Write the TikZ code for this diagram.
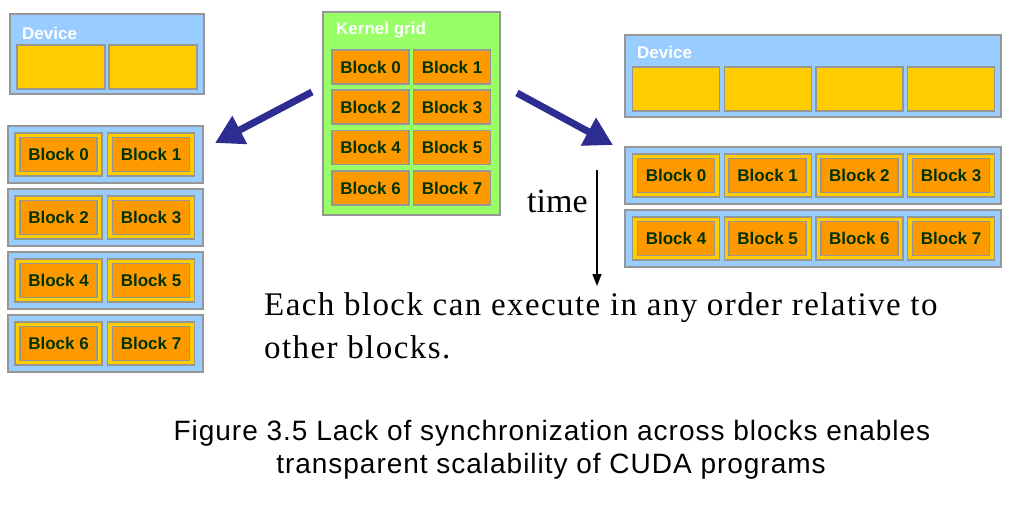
\documentclass[tikz,border=0pt]{standalone}
\usepackage{fontspec}
\setmainfont{Liberation Serif}
\setsansfont{Liberation Sans}
\usetikzlibrary{arrows.meta}

\definecolor{devblue}{RGB}{153,204,255}
\definecolor{coreyellow}{RGB}{255,204,0}
\definecolor{blkorange}{RGB}{255,153,0}
\definecolor{gridgreen}{RGB}{153,255,102}
\definecolor{edgegray}{RGB}{150,150,150}
\definecolor{blkgreen}{RGB}{0,51,0}
\definecolor{arrownavy}{RGB}{45,45,145}

\begin{document}
\begin{tikzpicture}[x=1pt,y=-1pt,
  devbox/.style={draw=edgegray,fill=devblue,line width=1.5pt,inner sep=0pt},
  gridbox/.style={draw=edgegray,fill=gridgreen,line width=1.5pt,inner sep=0pt},
  corebox/.style={draw=edgegray,fill=coreyellow,line width=1.2pt,inner sep=0pt,minimum width=87pt,minimum height=43pt},
  blkbox/.style={draw=edgegray,fill=blkorange,line width=1.5pt,inner sep=0pt,minimum width=77pt,minimum height=34pt,
    text=blkgreen,font=\sffamily\bfseries\fontsize{17}{17}\selectfont},
  boxlabel/.style={anchor=west,inner sep=0pt,text=white,font=\sffamily\bfseries\fontsize{17}{17}\selectfont},
  bigarrow/.style={draw=arrownavy,line width=7pt,-{Triangle[length=28pt,width=30pt]}},
  bodytext/.style={anchor=base west,inner sep=0pt,font=\fontsize{33}{33}\selectfont\addfontfeatures{LetterSpace=4.3}},
  captext/.style={anchor=base,inner sep=0pt,font=\sffamily\fontsize{28}{28}\selectfont\addfontfeatures{LetterSpace=3.5}}]
  \useasboundingbox (0,0) rectangle (1023,505);

  % left device with two cores
  \node[devbox,minimum width=194pt,minimum height=80pt] (ldev) at (107,54) {};
  \node[boxlabel] (ldevlbl) at (22,33) {Device};
  \node[corebox,minimum width=88pt,minimum height=44pt] (ld0) at (61,67) {};
  \node[corebox,minimum width=88pt,minimum height=44pt] (ld1) at (153,67) {};

  % left device running the blocks two at a time
  \node[devbox,minimum width=195pt,minimum height=57pt] (lrow0) at (105.5,154.5) {};
  \node[devbox,minimum width=195pt,minimum height=57pt] (lrow1) at (105.5,217.5) {};
  \node[devbox,minimum width=195pt,minimum height=57pt] (lrow2) at (105.5,280.5) {};
  \node[devbox,minimum width=195pt,minimum height=57pt] (lrow3) at (105.5,343.5) {};
  \node[corebox] (lc0) at (58.5,154.5) {};
  \node[corebox] (lc1) at (151,154.5) {};
  \node[corebox] (lc2) at (58.5,217.5) {};
  \node[corebox] (lc3) at (151,217.5) {};
  \node[corebox] (lc4) at (58.5,280.5) {};
  \node[corebox] (lc5) at (151,280.5) {};
  \node[corebox] (lc6) at (58.5,343.5) {};
  \node[corebox] (lc7) at (151,343.5) {};
  \node[blkbox] (lb0) at (58.5,154.5) {Block 0};
  \node[blkbox] (lb1) at (151,154.5) {Block 1};
  \node[blkbox] (lb2) at (58.5,217.5) {Block 2};
  \node[blkbox] (lb3) at (151,217.5) {Block 3};
  \node[blkbox] (lb4) at (58.5,280.5) {Block 4};
  \node[blkbox] (lb5) at (151,280.5) {Block 5};
  \node[blkbox] (lb6) at (58.5,343.5) {Block 6};
  \node[blkbox] (lb7) at (151,343.5) {Block 7};

  % kernel grid
  \node[gridbox,minimum width=177pt,minimum height=203pt] (grid) at (411.5,113.5) {};
  \node[boxlabel] (gridlbl) at (336,30) {Kernel grid};
  \node[blkbox] (gb0) at (370.5,67) {Block 0};
  \node[blkbox] (gb1) at (452,67) {Block 1};
  \node[blkbox] (gb2) at (370.5,107) {Block 2};
  \node[blkbox] (gb3) at (452,107) {Block 3};
  \node[blkbox] (gb4) at (370.5,147.5) {Block 4};
  \node[blkbox] (gb5) at (452,147.5) {Block 5};
  \node[blkbox] (gb6) at (370.5,188) {Block 6};
  \node[blkbox] (gb7) at (452,188) {Block 7};

  % right device with four cores
  \node[devbox,minimum width=376pt,minimum height=82pt] (rdev) at (813,76) {};
  \node[boxlabel] (rdevlbl) at (637,52) {Device};
  \node[corebox,minimum height=44pt] (rd0) at (676,89) {};
  \node[corebox,minimum height=44pt] (rd1) at (767.7,89) {};
  \node[corebox,minimum height=44pt] (rd2) at (859.4,89) {};
  \node[corebox,minimum height=44pt] (rd3) at (951.1,89) {};

  % right device running the blocks four at a time
  \node[devbox,minimum width=376pt,minimum height=57pt] (rrow0) at (813,175.5) {};
  \node[devbox,minimum width=376pt,minimum height=57pt] (rrow1) at (813,238.5) {};
  \node[corebox] (rc0) at (676,175.5) {};
  \node[corebox] (rc1) at (767.7,175.5) {};
  \node[corebox] (rc2) at (859.4,175.5) {};
  \node[corebox] (rc3) at (951.1,175.5) {};
  \node[corebox] (rc4) at (676,238.5) {};
  \node[corebox] (rc5) at (767.7,238.5) {};
  \node[corebox] (rc6) at (859.4,238.5) {};
  \node[corebox] (rc7) at (951.1,238.5) {};
  \node[blkbox] (rb0) at (676,175.5) {Block 0};
  \node[blkbox] (rb1) at (767.7,175.5) {Block 1};
  \node[blkbox] (rb2) at (859.4,175.5) {Block 2};
  \node[blkbox] (rb3) at (951.1,175.5) {Block 3};
  \node[blkbox] (rb4) at (676,238.5) {Block 4};
  \node[blkbox] (rb5) at (767.7,238.5) {Block 5};
  \node[blkbox] (rb6) at (859.4,238.5) {Block 6};
  \node[blkbox] (rb7) at (951.1,238.5) {Block 7};

  % arrows
  \coordinate (ltail) at (312,92);
  \coordinate (lhead) at (215,143);
  \coordinate (rtail) at (517,93);
  \coordinate (rhead) at (613,145);
  \draw[bigarrow] (ltail) -- (lhead);
  \draw[bigarrow] (rtail) -- (rhead);

  % time axis
  \coordinate (ttop) at (597,170);
  \coordinate (tbot) at (597,286);
  \draw[line width=1.5pt,-{Triangle[length=12pt,width=9pt]}] (ttop) -- (tbot);
  \node[anchor=base west,inner sep=0pt,font=\fontsize{34}{34}\selectfont] (timelbl) at (527,213) {time};

  % text
  \node[bodytext] (para1) at (264,315) {Each block can execute in any order relative to};
  \node[bodytext] (para2) at (264,358) {other blocks.};
  \node[captext] (cap1) at (552,440) {Figure 3.5 Lack of synchronization across blocks enables};
  \node[captext] (cap2) at (551,473) {transparent scalability of CUDA programs};
\end{tikzpicture}
\end{document}
